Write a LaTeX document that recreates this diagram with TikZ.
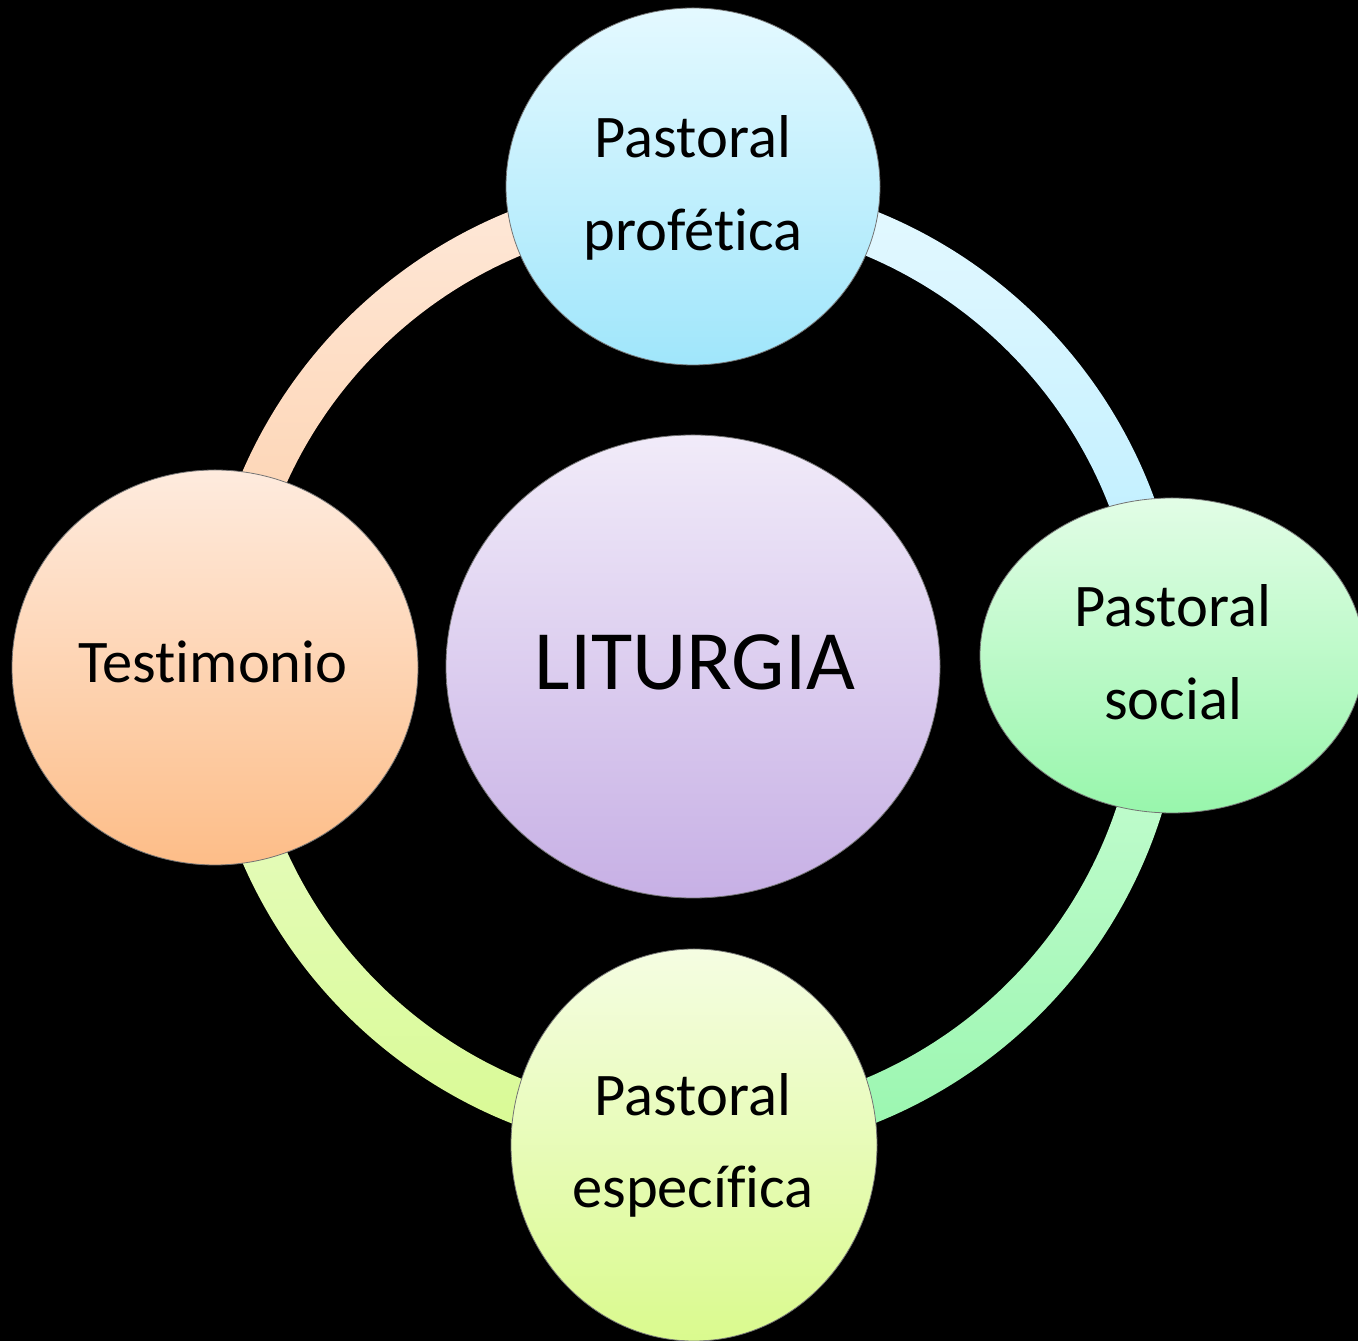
\documentclass[tikz,border=0pt]{standalone}
\usepackage{fontspec}
\setmainfont{Carlito}[Ligatures=NoCommon]
\usetikzlibrary{shapes.geometric}
\definecolor{tlA}{HTML}{FEE9DA}
\definecolor{tlB}{HTML}{FDCCA4}
\definecolor{trA}{HTML}{E6F9FF}
\definecolor{trB}{HTML}{B4ECFF}
\definecolor{brA}{HTML}{CCFDD6}
\definecolor{brB}{HTML}{98F6AE}
\definecolor{blA}{HTML}{EAFCCC}
\definecolor{blB}{HTML}{D8FA92}
\definecolor{topA}{HTML}{E4F9FF}
\definecolor{topB}{HTML}{A0E6FB}
\definecolor{rgtA}{HTML}{E2FDE6}
\definecolor{rgtB}{HTML}{98F6AC}
\definecolor{botA}{HTML}{F5FDE2}
\definecolor{botB}{HTML}{DAFA8E}
\definecolor{lftA}{HTML}{FEEBDE}
\definecolor{lftB}{HTML}{FDBD88}
\definecolor{cenA}{HTML}{F1EBF9}
\definecolor{cenB}{HTML}{C7B0E5}
\begin{document}
\begin{tikzpicture}[x=1pt,y=1pt,
  bubble/.style={ellipse, inner sep=0pt, draw=black!55, line width=0.8pt},
  lbl/.style={anchor=base, inner sep=0pt, text=black, font=\fontsize{60.5}{70}\selectfont},
  biglbl/.style={anchor=base, inner sep=0pt, text=black, font=\fontsize{84.5}{95}\selectfont}]
\fill[black] (0,0) rectangle (1358,1341);
\useasboundingbox (0,0) rectangle (1358,1341);
\coordinate (ring) at (693,674);
% ring segments
\fill[top color=tlA, bottom color=tlB] ([shift={(90:491)}]ring) arc[start angle=90,end angle=180,radius=491] -- ([shift={(180:446)}]ring) arc[start angle=180,end angle=90,radius=446] -- cycle;
\fill[top color=trA, bottom color=trB] ([shift={(0:491)}]ring) arc[start angle=0,end angle=90,radius=491] -- ([shift={(90:446)}]ring) arc[start angle=90,end angle=0,radius=446] -- cycle;
\fill[top color=brA, bottom color=brB] ([shift={(270:491)}]ring) arc[start angle=270,end angle=360,radius=491] -- ([shift={(0:446)}]ring) arc[start angle=360,end angle=270,radius=446] -- cycle;
\fill[top color=blA, bottom color=blB] ([shift={(180:491)}]ring) arc[start angle=180,end angle=270,radius=491] -- ([shift={(270:446)}]ring) arc[start angle=270,end angle=180,radius=446] -- cycle;
% nodes
\node[bubble, top color=topA, bottom color=topB, minimum width=374pt, minimum height=357pt] (top) at (693,1154.5) {};
\node[bubble, top color=rgtA, bottom color=rgtB, minimum width=384pt, minimum height=315pt] (right) at (1172,685.5) {};
\node[bubble, top color=botA, bottom color=botB, minimum width=366pt, minimum height=392pt] (bottom) at (694,196) {};
\node[bubble, top color=lftA, bottom color=lftB, minimum width=406pt, minimum height=395pt] (left) at (215,673.5) {};
\node[bubble, top color=cenA, bottom color=cenB, minimum width=494pt, minimum height=463pt] (center) at (693,674.5) {};
% labels
\node[lbl] (topa) at (693,1183) {Pastoral};
\node[lbl] (topb) at (693,1090) {profética};
\node[lbl] (righta) at (1173,714) {Pastoral};
\node[lbl] (rightb) at (1173,621) {social};
\node[lbl] (bota) at (693,225) {Pastoral};
\node[lbl] (botb) at (693,133) {específica};
\node[lbl] (lefta) at (213,658) {Testimonio};
\node[biglbl] (cena) at (695,651) {LITURGIA};
\end{tikzpicture}
\end{document}
